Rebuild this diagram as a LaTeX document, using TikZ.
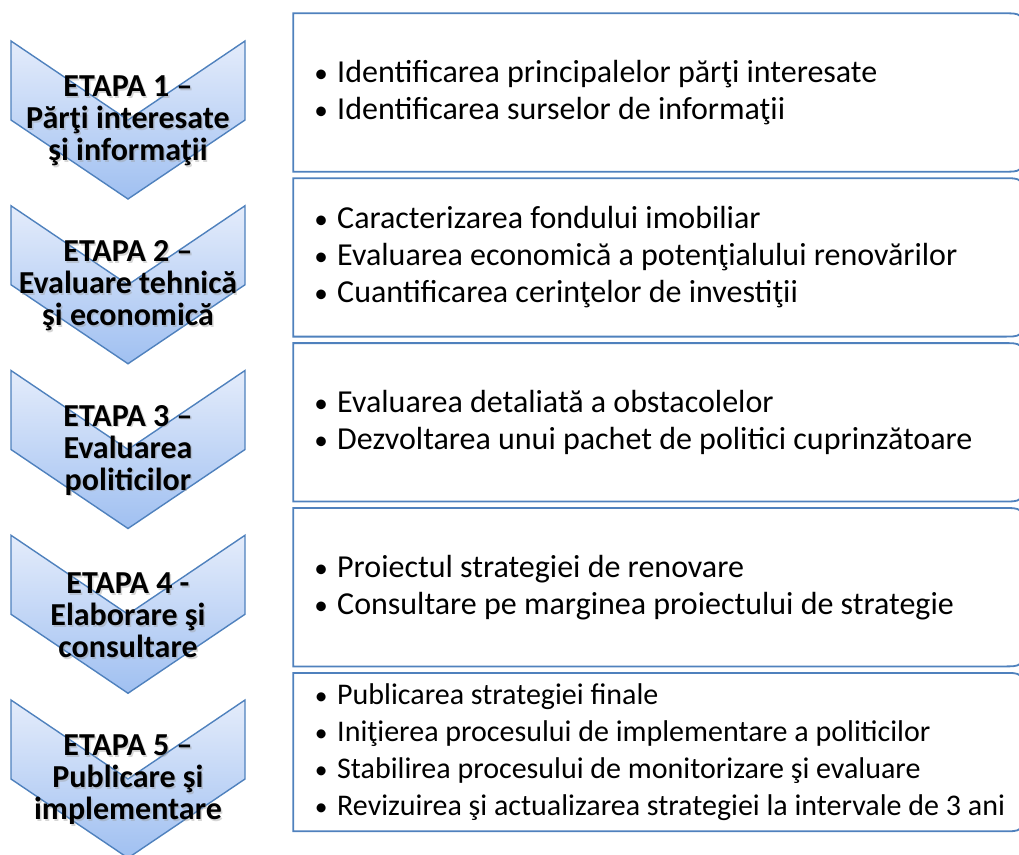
\documentclass[tikz,border=0pt]{standalone}
\usepackage{fontspec}
\setmainfont{Carlito}
\definecolor{edge}{RGB}{79,129,189}
\definecolor{chevtop}{RGB}{228,236,251}
\definecolor{chevbot}{RGB}{160,192,241}
\tikzset{
  chev/.style={draw=edge, line width=1.4pt, top color=chevtop, bottom color=chevbot, line join=miter},
  itembox/.style={draw=edge, line width=1.8pt, fill=white},
  chevtext/.style={align=center, font=\fontsize{32}{32}\selectfont\bfseries, inner sep=0pt},
  shadowtext/.style={chevtext, text=black!40, opacity=0.4},
  boxtext/.style={align=left, anchor=west, font=\fontsize{32}{37}\selectfont, inner sep=0pt},
  boxtextsmall/.style={boxtext, font=\fontsize{30}{37}\selectfont}
}
\newcommand{\bul}{\makebox[20pt][l]{\makebox[8pt][c]{\scalebox{0.85}{•}}}}
\begin{document}
\begin{tikzpicture}[x=1pt,y=-1pt]
\useasboundingbox (0,0) rectangle (1019,854);
\foreach \i/\txt in {0/{ETAPA 1 –\\Părţi interesate\\şi informaţii},
                     1/{ETAPA 2 –\\Evaluare tehnică\\şi economică},
                     2/{ETAPA 3 –\\Evaluarea\\politicilor},
                     3/{ETAPA 4 -\\Elaborare şi\\consultare},
                     4/{ETAPA 5 –\\Publicare şi\\implementare}}{
  \pgfmathsetmacro{\ct}{41+164.75*\i}
  \pgfmathsetmacro{\bt}{13.3+164.9*\i}
  \pgfmathsetmacro{\bb}{\bt+158.4}
  \path[chev] (11,\ct) -- (128,\ct+79) -- (245,\ct) -- (245,\ct+79) -- (128,\ct+158) -- (11,\ct+79) -- cycle;
  \node[shadowtext] at (129.5,\ct+81.5) {\txt};
  \node[chevtext] (c\i) at (128,\ct+80) {\txt};
  \draw[itembox] (293.3,\bt) -- (1003,\bt) .. controls (1022,\bt) .. (1022,\bt+19) -- (1022,\bb-19) .. controls (1022,\bb) .. (1003,\bb) -- (293.3,\bb) -- cycle;
  \coordinate (b\i) at (317,\bt+79.2);
}
\node[boxtext] (t0) at (b0) {\bul Identificarea principalelor părţi interesate\\\bul Identificarea surselor de informaţii};
\node[boxtext] (t1) at (b1) {\bul Caracterizarea fondului imobiliar\\\bul Evaluarea economică a potenţialului renovărilor\\\bul Cuantificarea cerinţelor de investiţii};
\node[boxtext] (t2) at (b2) {\bul Evaluarea detaliată a obstacolelor\\\bul Dezvoltarea unui pachet de politici cuprinzătoare};
\node[boxtext] (t3) at (b3) {\bul Proiectul strategiei de renovare\\\bul Consultare pe marginea proiectului de strategie};
\node[boxtextsmall] (t4) at (b4) {\bul Publicarea strategiei finale\\\bul Iniţierea procesului de implementare a politicilor\\\bul Stabilirea procesului de monitorizare şi evaluare\\\bul Revizuirea şi actualizarea strategiei la intervale de 3 ani};
\end{tikzpicture}
\end{document}
